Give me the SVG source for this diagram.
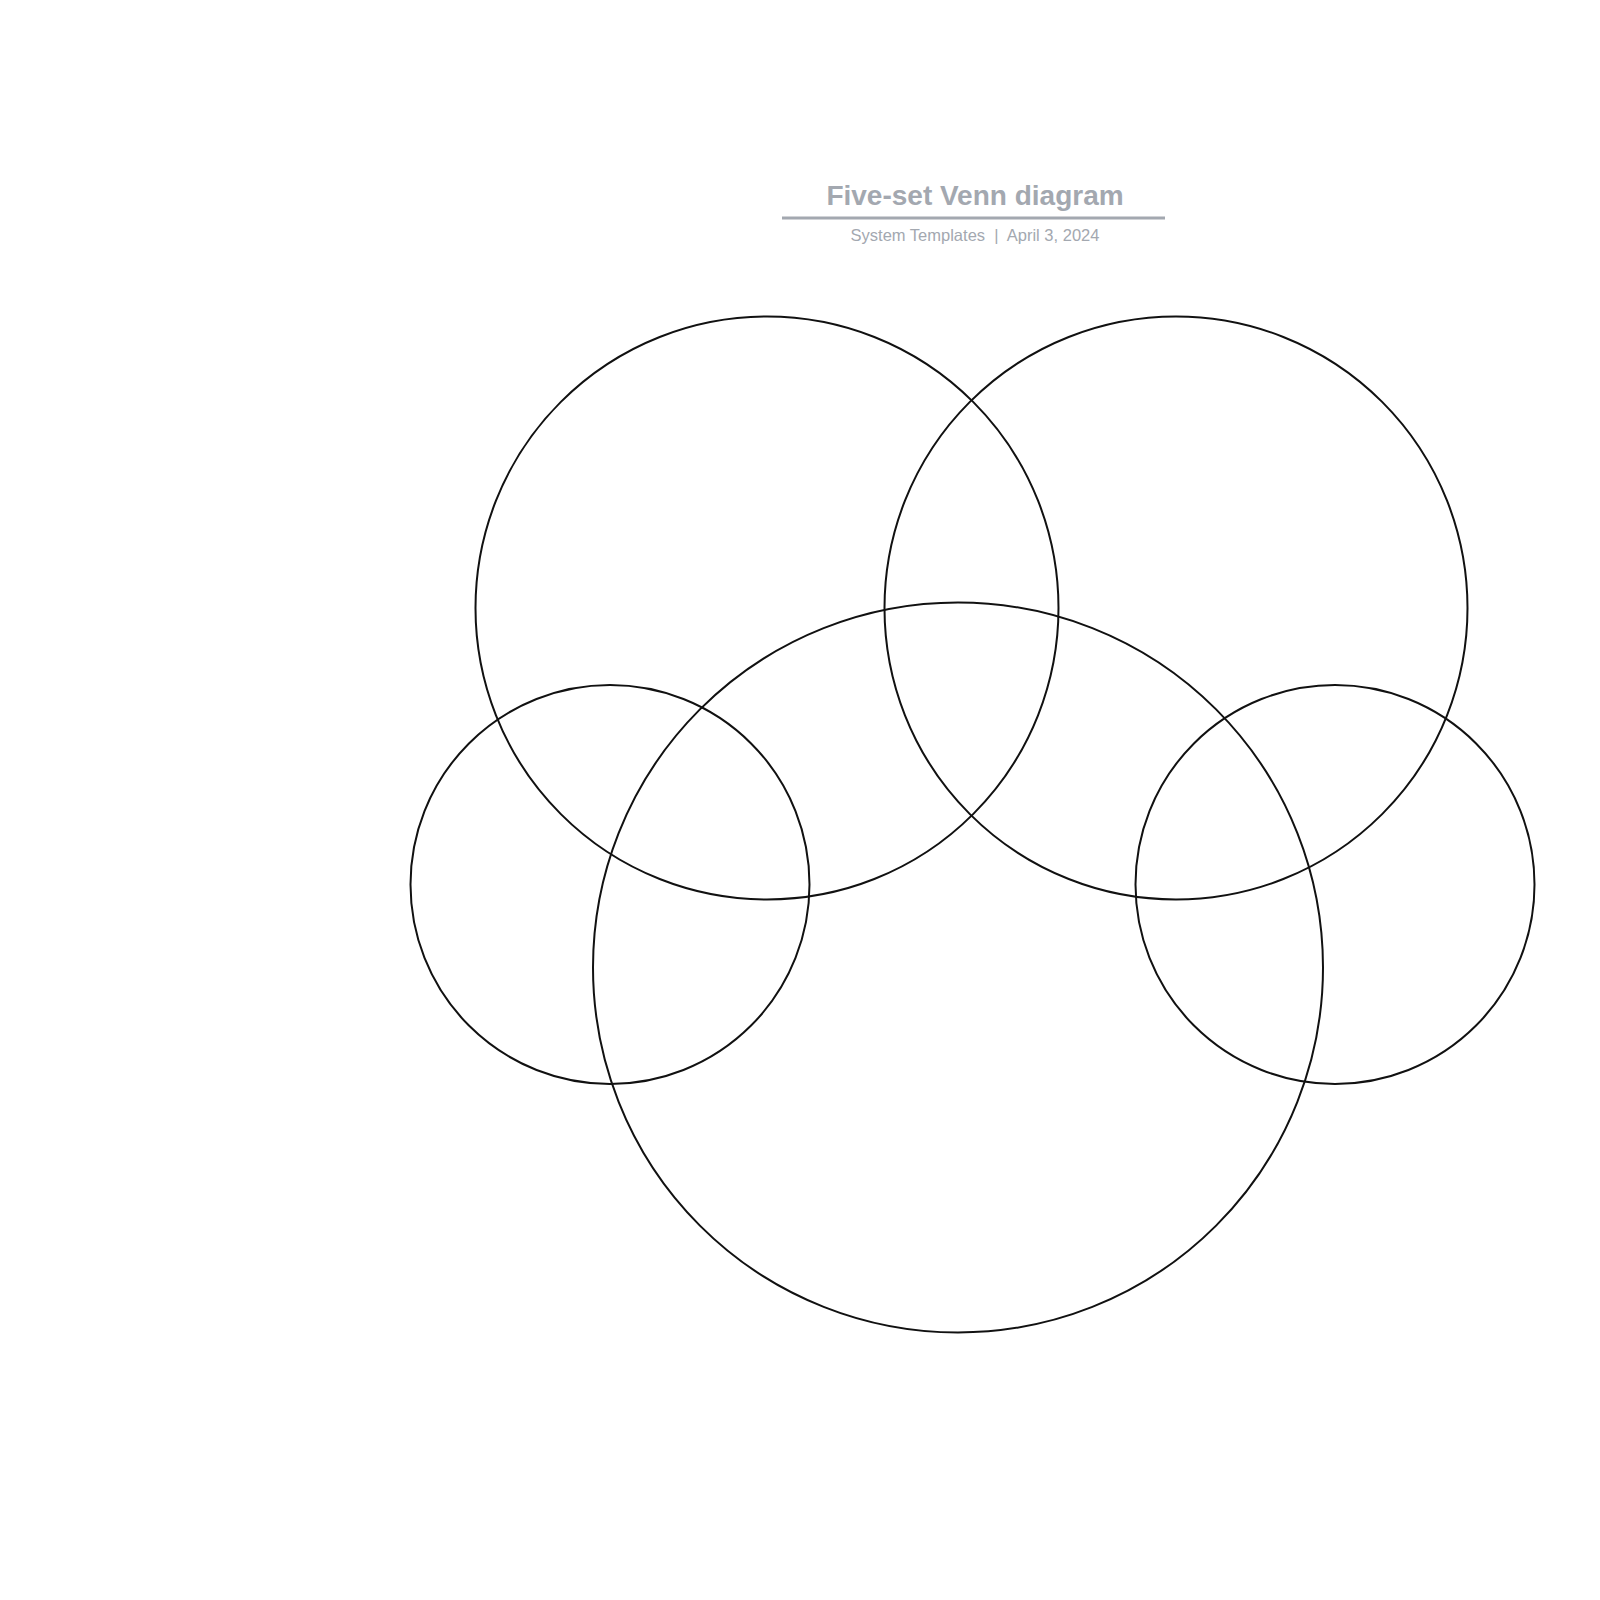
<svg xmlns="http://www.w3.org/2000/svg" width="1600" height="1600" viewBox="0 0 1600 1600">
<style>
.set{fill:none;stroke:#111;stroke-width:2}
.title{font-family:"Liberation Sans",Arial,sans-serif;font-weight:bold;font-size:28px;fill:#a3a8b0;text-anchor:middle}
.sub{font-family:"Liberation Sans",Arial,sans-serif;font-size:16.5px;fill:#a3a8b0;text-anchor:middle;white-space:pre}
</style>
<rect width="1600" height="1600" fill="#fff"/>
<g id="header">
<text class="title" x="975" y="205">Five-set Venn diagram</text>
<line x1="782" y1="218" x2="1165" y2="218" stroke="#a3a8b0" stroke-width="3"/>
<text class="sub" x="975" y="241" xml:space="preserve">System Templates  |  April 3, 2024</text>
</g>
<g id="set-top-left"><circle class="set" cx="767" cy="608" r="291.5"/></g>
<g id="set-top-right"><circle class="set" cx="1176" cy="608" r="291.5"/></g>
<g id="set-bottom"><circle class="set" cx="958" cy="967.5" r="365"/></g>
<g id="set-left"><circle class="set" cx="610" cy="884.5" r="199.5"/></g>
<g id="set-right"><circle class="set" cx="1335" cy="884.5" r="199.5"/></g>
<g id="connectors"></g>
</svg>
